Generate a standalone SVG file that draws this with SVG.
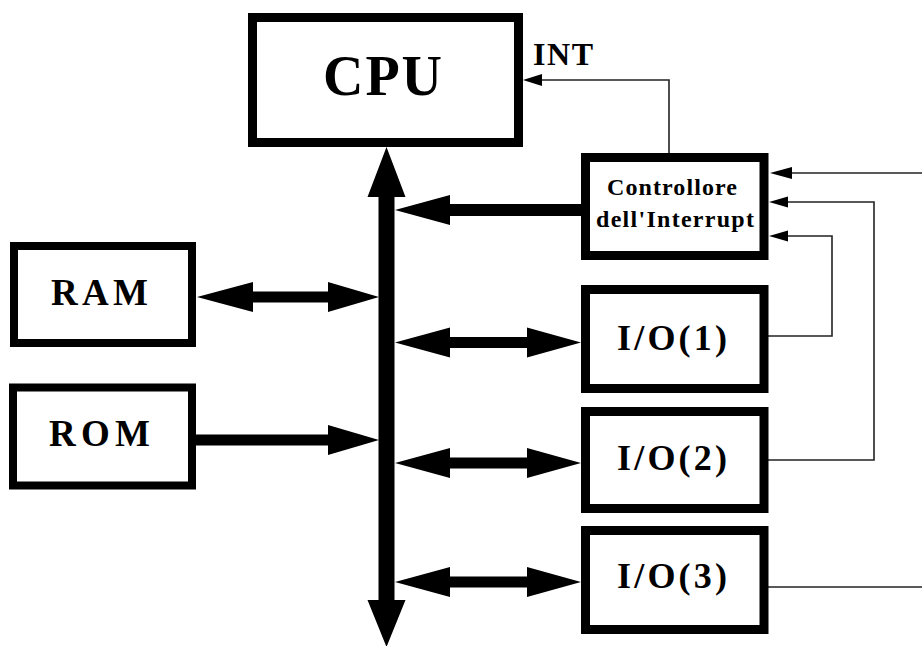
<svg xmlns="http://www.w3.org/2000/svg" width="922" height="646" viewBox="0 0 922 646">
  <style>
    .box { fill: #fff; stroke: #000; stroke-width: 9; }
    .mem { fill: #fff; stroke: #000; stroke-width: 8; }
    .lbl { font-family: "Liberation Serif", "Times New Roman", serif; font-weight: bold; fill: #000; }
    .bus { fill: #000; stroke: none; }
    .wire { fill: none; stroke: #222; stroke-width: 1.6; }
    .tip { fill: #000; stroke: none; }
  </style>

  <!-- connectors: system bus, data paths and interrupt request lines -->
  <g id="connectors">
    <!-- vertical system bus, arrow at both ends -->
    <path class="bus" d="M386.5,147 L405.5,197 L394.5,197 L394.5,600 L405.5,600 L386.5,647 L367.5,600 L378.5,600 L378.5,197 L367.5,197 Z"/>
    <!-- RAM <-> bus -->
    <path class="bus" d="M197,297 L253,282 L253,291.5 L328,291.5 L328,282 L379,297 L328,312 L328,302.5 L253,302.5 L253,312 Z"/>
    <!-- ROM -> bus -->
    <path class="bus" d="M196,434.5 L328,434.5 L328,425 L379,440 L328,455 L328,445.5 L196,445.5 Z"/>
    <!-- interrupt controller -> bus -->
    <path class="bus" d="M395,210 L450,195 L450,204 L581,204 L581,216 L450,216 L450,225 Z"/>
    <!-- bus <-> I/O(1), I/O(2), I/O(3) -->
    <path class="bus" d="M395,342.5 L450,327.5 L450,337 L527,337 L527,327.5 L581,342.5 L527,357.5 L527,348 L450,348 L450,357.5 Z"/>
    <path class="bus" d="M395,463 L450,448 L450,457.5 L527,457.5 L527,448 L581,463 L527,478 L527,468.5 L450,468.5 L450,478 Z"/>
    <path class="bus" d="M395,582 L450,567 L450,576.5 L527,576.5 L527,567 L581,582 L527,597 L527,587.5 L450,587.5 L450,597 Z"/>

    <!-- INT line from the controller to the CPU -->
    <polyline class="wire" points="669,153 669,80 541,80"/>
    <path class="tip" d="M523,80 L542,74 L542,86 Z"/>
    <!-- external interrupt request -->
    <line class="wire" x1="922" y1="173" x2="790" y2="173"/>
    <path class="tip" d="M770,173 L792,167 L792,179 Z"/>
    <!-- I/O(2) interrupt request -->
    <polyline class="wire" points="768,460 874,460 874,202 786,202"/>
    <path class="tip" d="M769,202 L788,196.5 L788,207.5 Z"/>
    <!-- I/O(1) interrupt request -->
    <polyline class="wire" points="768,336 832,336 832,236 786,236"/>
    <path class="tip" d="M769,236 L788,230.5 L788,241.5 Z"/>
    <!-- I/O(3) request line leaving to the right -->
    <line class="wire" x1="768" y1="587" x2="922" y2="587"/>
  </g>

  <g id="cpu">
    <rect class="box" x="252.5" y="17.5" width="266" height="125"/>
    <text class="lbl" x="323" y="95" font-size="56" textLength="119" lengthAdjust="spacing">CPU</text>
  </g>

  <g id="int-label">
    <text class="lbl" x="533" y="65" font-size="32" textLength="60" lengthAdjust="spacing">INT</text>
  </g>

  <g id="interrupt-controller">
    <rect class="box" x="585.5" y="157.5" width="178.5" height="98"/>
    <text class="lbl" x="607" y="195" font-size="24" textLength="130" lengthAdjust="spacing">Controllore</text>
    <text class="lbl" x="596" y="227" font-size="24" textLength="158" lengthAdjust="spacing">dell'Interrupt</text>
  </g>

  <g id="ram">
    <rect class="mem" x="14" y="246" width="178" height="97"/>
    <text class="lbl" x="51" y="305" font-size="37" textLength="97" lengthAdjust="spacing">RAM</text>
  </g>

  <g id="rom">
    <rect class="mem" x="13" y="387.5" width="179" height="98"/>
    <text class="lbl" x="49" y="446" font-size="37" textLength="101" lengthAdjust="spacing">ROM</text>
  </g>

  <g id="io1">
    <rect class="box" x="585.5" y="289.5" width="178.5" height="99"/>
    <text class="lbl" x="617" y="350" font-size="36" textLength="110" lengthAdjust="spacing">I/O(1)</text>
  </g>

  <g id="io2">
    <rect class="box" x="585.5" y="411.5" width="178.5" height="97"/>
    <text class="lbl" x="617" y="470" font-size="36" textLength="110" lengthAdjust="spacing">I/O(2)</text>
  </g>

  <g id="io3">
    <rect class="box" x="585.5" y="530.5" width="178.5" height="99"/>
    <text class="lbl" x="617" y="588" font-size="36" textLength="110" lengthAdjust="spacing">I/O(3)</text>
  </g>
</svg>
